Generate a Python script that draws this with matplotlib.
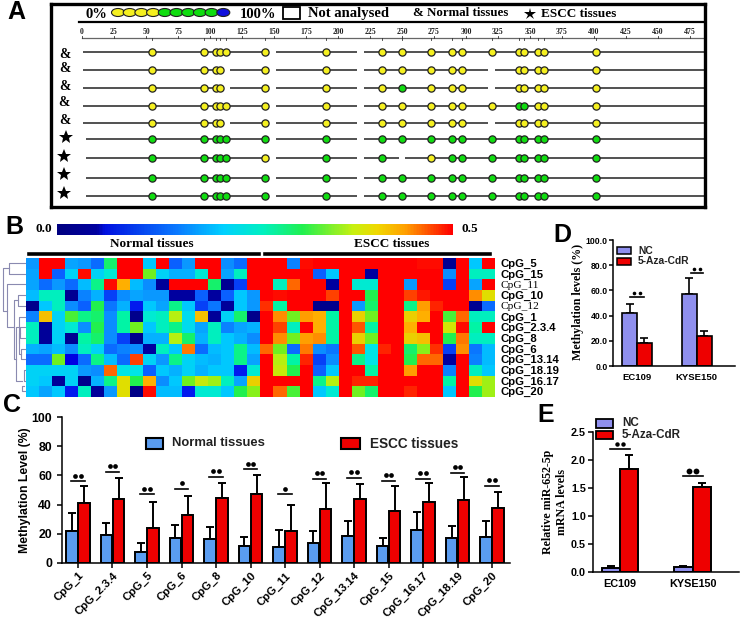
import numpy as np
import matplotlib
matplotlib.use('Agg')
import matplotlib.pyplot as plt
from matplotlib.cm import ScalarMappable
from matplotlib.colors import LinearSegmentedColormap, Normalize
from matplotlib.patches import Ellipse, Rectangle

W, H = 740, 620
SANS = 'Liberation Sans'
SERIF = 'Liberation Serif'

# panel A
sites = [55, 95.5, 104.7, 108, 112.8, 142.7, 191, 234, 250, 272.6, 289, 297, 320,
         341.6, 345, 356, 361, 401.5]
# one letter per site: y = yellow, g = green, n = not analysed
row_status = ['yyyyyyyyyyyyyyyyyy',
              'yyyynyyyyyyynyyyyy',
              'yyyynyyygyyynyyyyy',
              'yyyyyyyyyyyyyggyyy',
              'yyyynyyyyyyynyyyyy',
              'gggggggggggggggggg',
              'gggggyggnygggggggg',
              'gggggggggggggggggg',
              'gggggggggggggggggg']
ruler_ticks = list(range(0, 500, 25))
legend_colors = ['#f5f020'] * 4 + ['#10dd10'] * 5 + ['#1010dd']

# panel B
heat_labels = ['CpG_5', 'CpG_15', 'CpG_11', 'CpG_10', 'CpG_12', 'CpG_1', 'CpG_2.3.4',
               'CpG_8', 'CpG_6', 'CpG_13.14', 'CpG_18.19', 'CpG_16.17', 'CpG_20']
heat_normal = [
    [.15, .5, .5, .16, .15, .11, .27, .5, .5, .19, .5, .10, .15, .5, .5, .14, .11],
    [.16, .5, .10, .2, .49, .2, .23, .5, .5, .3, .2, .17, .17, .23, .5, .16, .24],
    [.16, .11, .15, .11, .18, .26, .49, .39, .18, .14, .04, .5, .5, .5, .27, .03, .09],
    [.18, .24, .24, .03, .13, .17, .09, .14, .16, .15, .15, .05, .05, .1, .05, .1, .19],
    [.02, .19, .24, .14, .10, .28, .12, .17, .08, .19, .16, .26, .19, .09, .12, .04, .19],
    [.13, .38, .2, .29, .26, .27, .14, .25, .02, .23, .24, .33, .21, .38, .04, .2, .27],
    [.24, .04, .2, .23, .14, .28, .14, .25, .3, .19, .24, .26, .21, .16, .24, .13, .16],
    [.24, .04, .2, .03, .25, .27, .14, .09, .02, .17, .17, .33, .27, .17, .24, .19, .17],
    [.17, .16, .18, .14, .24, .2, .11, .13, .14, .05, .24, .19, .42, .11, .18, .19, .26],
    [.11, .11, .3, .07, .11, .26, .18, .11, .45, .2, .15, .26, .2, .18, .17, .19, .26],
    [.2, .2, .2, .2, .15, .14, .43, .22, .22, .1, .19, .17, .2, .17, .19, .19, .08],
    [.2, .19, .04, .2, .02, .17, .26, .36, .28, .39, .14, .19, .3, .34, .32, .24, .16],
    [.19, .16, .19, .08, .24, .04, .15, .36, .01, .49, .18, .18, .08, .23, .23, .19, .28],
]
heat_escc = [
    [.5, .5, .5, .13, .49, .5, .5, .5, .5, .5, .5, .5, .5, .49, .49, .03, .5, .19, .5],
    [.5, .5, .5, .5, .5, .1, .19, .5, .5, .05, .5, .5, .5, .5, .5, .14, .5, .24, .24],
    [.5, .5, .24, .43, .5, .5, .05, .5, .23, .23, .5, .5, .15, .5, .5, .09, .5, .16, .5],
    [.15, .5, .49, .5, .5, .5, .45, .5, .5, .28, .5, .5, .45, .48, .5, .5, .5, .41, .36],
    [.15, .46, .25, .5, .5, .02, .02, .5, .15, .27, .5, .5, .26, .4, .47, .5, .5, .03, .11],
    [.02, .5, .41, .3, .4, .39, .25, .5, .37, .3, .5, .5, .37, .39, .5, .29, .43, .24, .24],
    [.17, .5, .45, .24, .5, .39, .25, .5, .44, .25, .5, .5, .39, .5, .5, .35, .49, .25, .5],
    [.14, .5, .41, .3, .4, .41, .25, .5, .37, .3, .5, .5, .37, .38, .5, .28, .42, .24, .24],
    [.18, .43, .3, .11, .42, .14, .12, .5, .44, .22, .47, .5, .27, .31, .46, .09, .41, .12, .18],
    [.16, .5, .33, .25, .47, .09, .14, .5, .26, .22, .5, .5, .28, .43, .43, .05, .5, .13, .18],
    [.23, .5, .34, .28, .5, .1, .19, .5, .5, .25, .5, .5, .4, .5, .5, .13, .5, .24, .19],
    [.37, .5, .5, .5, .5, .26, .33, .5, .47, .47, .5, .5, .5, .5, .5, .25, .5, .36, .32],
    [.31, .5, .43, .29, .5, .19, .23, .5, .3, .27, .5, .5, .47, .5, .5, .19, .5, .28, .32],
]

# panel C
cpg_names = ['CpG_1', 'CpG_2.3.4', 'CpG_5', 'CpG_6', 'CpG_8', 'CpG_10', 'CpG_11', 'CpG_12',
             'CpG_13.14', 'CpG_15', 'CpG_16.17', 'CpG_18.19', 'CpG_20']
normal_mean = [21.5, 19, 7.5, 17, 16, 11.5, 10.5, 13.8, 18.3, 11.7, 22.5, 17.2, 17.9]
normal_top = [34, 27, 13.5, 26, 24.5, 17.5, 22.5, 21.5, 29, 16.7, 34.6, 25.2, 28.7]
escc_mean = [41, 43.5, 24, 33, 44.5, 47, 22, 37, 44, 35.3, 41.7, 43, 37.6]
escc_top = [52.5, 58, 42, 46, 55, 60.5, 39.7, 55, 54, 53, 54.6, 59, 48.9]
sig_y = [56, 62.6, 47.2, 50.7, 59.2, 64.4, 47, 57.6, 58.3, 56.4, 57.8, 62, 53]
sig_dots = [2, 2, 2, 1, 2, 2, 1, 2, 2, 2, 2, 2, 2]

# panels D and E
cells = ['EC109', 'KYSE150']
d_nc, d_nc_top = [42, 57.5], [49.5, 70]
d_aza, d_aza_top = [18, 23.5], [22.5, 27.5]
d_sig = [54.5, 74]
e_nc, e_nc_top = [0.08, 0.09], [0.11, 0.12]
e_aza, e_aza_top = [1.835, 1.526], [2.096, 1.597]
e_sig = [2.19, 1.71]

BLUE = '#5a9cf0'
RED = '#ee0000'
NC = '#8f8fee'


def panel_ax(left, top, right, bottom):
    return fig.add_axes([left / W, 1 - bottom / H, (right - left) / W, (bottom - top) / H])


def tx(x, y, s, **kw):
    kw.setdefault('va', 'center')
    kw.setdefault('ha', 'left')
    return fig.text(x / W, 1 - y / H, s, **kw)


def swatch(left, top, right, bottom, color, lw=1.5):
    fig.add_artist(Rectangle((left / W, 1 - bottom / H), (right - left) / W, (bottom - top) / H,
                             transform=fig.transFigure, fc=color, ec='k', lw=lw))


def bar_axes(ax, ylim):
    ax.set_ylim(*ylim)
    for s in ['top', 'right']:
        ax.spines[s].set_visible(False)
    for s in ['left', 'bottom']:
        ax.spines[s].set_linewidth(1.1)
    ax.tick_params(width=1.1, length=3.5)
    ax.patch.set_alpha(0)


def bars(ax, xs, vals, tops, width, color, lw=1.4):
    ax.bar(xs, vals, width, color=color, edgecolor='k', linewidth=lw, zorder=2)
    ax.errorbar(xs, vals, yerr=[np.zeros(len(vals)), np.array(tops) - np.array(vals)], fmt='none',
                ecolor='k', elinewidth=lw, capsize=2.6, capthick=lw, zorder=1)


def sig(ax, x, y, half, gap, n, dx, ms):
    ax.plot([x - half, x + half], [y, y], color='k', lw=1.2, clip_on=False)
    if n == 2:
        ax.plot([x - dx, x + dx], [y + gap, y + gap], 'o', color='k', ms=ms, mew=0, clip_on=False)
    else:
        ax.plot([x], [y + gap], 'o', color='k', ms=ms, mew=0, clip_on=False)


fig = plt.figure(figsize=(W / 100, H / 100), dpi=100)

# A -----------------------------------------------------------------
ax = panel_ax(51, 4, 705, 207)
ax.set_xlim((51 - 82) / 1.28, (705 - 82) / 1.28)
ax.set_ylim(207, 4)
ax.set_xticks([])
ax.set_yticks([])
for s in ax.spines.values():
    s.set_linewidth(2.4)
row_y = [52, 70, 88, 106, 123, 138.5, 157.5, 178, 196]
fixed_gaps = [(145.8, 151.6), (214.8, 220.3)]
for r, (y, status) in enumerate(zip(row_y, row_status)):
    gaps = list(fixed_gaps)
    for site, st in zip(sites, status):
        if st == 'n':
            gaps.append((site - 2.6, site + 2.6))
    gaps.sort()
    start = 1 if r < 5 else 3
    for g0, g1 in gaps + [(490, 490)]:
        ax.plot([start, g0], [y, y], color='#333333', lw=1.2, zorder=1, solid_capstyle='butt')
        start = g1
    for site, st in zip(sites, status):
        if st == 'n':
            continue
        ax.plot(site, y, 'o', ms=5.2, mfc='#f5f020' if st == 'y' else '#10dd10', mec='#222222',
                mew=0.9, zorder=3)
ax.plot([-2, 490], [22, 22], color='k', lw=1.6)
ax.plot([0, 490], [38, 38], color='#666666', lw=0.9)
for t in ruler_ticks:
    ax.plot([t, t], [36, 38], color='#333333', lw=0.6)
    ax.text(t, 31.5, str(t), ha='center', va='center', fontsize=5.6, family=SERIF, weight='bold',
            color='#222222')
for site in sites:
    ax.plot([site, site], [38, 40], color='#333333', lw=0.6)
for i, col in enumerate(legend_colors):
    ax.add_patch(Ellipse(((118 + 11.7 * i - 82) / 1.28, 12.5), 13 / 1.28, 8, fc=col, ec='#222222',
                         lw=0.8, zorder=2 + i))
swatch(283, 7, 300, 19, 'white', lw=1.3)
head = dict(family=SERIF, weight='bold', fontsize=10.5)
tx(86, 14, '0%', **head)
tx(240, 14, '100%', **head)
tx(308, 14, 'Not analysed', **head)
tx(413, 13, '& Normal tissues', family=SERIF, weight='bold', fontsize=9.3)
tx(541, 14, 'ESCC tissues', family=SERIF, weight='bold', fontsize=9.5)
fig.add_artist(plt.Line2D([530 / W], [1 - 14 / H], marker='*', color='k', ms=9, mew=0,
                          transform=fig.transFigure))
for x, y in zip([65, 65, 65, 64, 65], [54, 68, 87, 102, 120]):
    tx(x, y, '&', family=SERIF, weight='bold', fontsize=9.8, ha='center')
for x, y in zip([66, 64, 64, 64], [137, 156, 174, 193]):
    fig.add_artist(plt.Line2D([x / W], [1 - y / H], marker='*', color='k', ms=10.5, mew=0,
                              transform=fig.transFigure))
tx(7, 12, 'A', family=SANS, weight='bold', fontsize=18)

# B -----------------------------------------------------------------
cmap = LinearSegmentedColormap.from_list('meth', [
    (0, '#000080'), (0.1, '#0000a0'), (0.14, '#0000e8'), (0.2, '#0a60ff'), (0.3, '#0a9aff'),
    (0.38, '#00c8ff'), (0.44, '#00e6e6'), (0.5, '#00f5a8'), (0.56, '#20f050'), (0.6, '#70f020'),
    (0.66, '#b8f010'), (0.72, '#e0e000'), (0.78, '#ffb000'), (0.86, '#ff6a00'), (0.92, '#ff3000'),
    (1, '#ff0000')])
# the bar in the picture is stretched differently from the cells
bar_cmap = LinearSegmentedColormap.from_list('methbar', [
    (0, '#000080'), (0.1, '#0000a0'), (0.12, '#0010e0'), (0.3, '#0a78ff'), (0.42, '#00d0ff'),
    (0.52, '#00f0c0'), (0.62, '#20f050'), (0.75, '#c8f010'), (0.81, '#f0d800'), (0.88, '#ffa000'),
    (0.94, '#ff5000'), (1, '#ff0000')])
heat = np.hstack([np.array(heat_normal), np.array(heat_escc)])
ax = panel_ax(26, 257.7, 494.5, 396.7)
ax.imshow(heat, cmap=cmap, vmin=0, vmax=0.5, aspect='auto', interpolation='nearest')
ax.set_xticks([])
ax.yaxis.tick_right()
ax.set_yticks(range(len(heat_labels)))
ax.set_yticklabels(heat_labels, family=SANS, weight='bold', fontsize=8.2)
for lab in ax.get_yticklabels():
    if lab.get_text() in ('CpG_11', 'CpG_12'):
        lab.set_family(SERIF)
        lab.set_weight('normal')
ax.tick_params(axis='y', length=0, pad=4)
for s in ax.spines.values():
    s.set_visible(False)

cax = panel_ax(57, 224, 453, 235)
fig.colorbar(ScalarMappable(Normalize(0, 0.5), bar_cmap), cax=cax, orientation='horizontal')
cax.set_xticks([])
cax.xaxis.set_tick_params(which='both', length=0)
cax.minorticks_off()
cax.spines['outline'].set_visible(False)
tx(35, 229.5, '0.0', family=SERIF, weight='bold', fontsize=9.5)
tx(461, 229.5, '0.5', family=SERIF, weight='bold', fontsize=9.5)
tx(110, 243.5, 'Normal tissues', family=SERIF, weight='bold', fontsize=9.5)
tx(354, 243.5, 'ESCC tissues', family=SERIF, weight='bold', fontsize=9.5)
fig.add_artist(plt.Line2D([29 / W, 259 / W], [1 - 254 / H] * 2, color='k', lw=2.6,
                          transform=fig.transFigure))
fig.add_artist(plt.Line2D([265 / W, 490 / W], [1 - 254 / H] * 2, color='k', lw=2.6,
                          transform=fig.transFigure))
tx(5, 227, 'B', family=SANS, weight='bold', fontsize=18)

# dendrogram: x in px, y in heatmap rows
dax = panel_ax(0, 257.7, 26, 396.7)
dax.set_xlim(0, 26)
dax.set_ylim(12.5, -0.5)
dax.axis('off')
brackets = [(9, 0, 1, 26, 26), (18, 3, 4, 26, 26), (24, 10, 11, 26, 26), (22, 11.5, 12, 24, 26),
            (21, 8, 9, 26, 26), (20, 6, 7, 26, 26), (19, 6.5, 8.5, 20, 21),
            (19, 5, 7.5, 26, 19), (16, 6, 11, 19, 22), (14, 3.5, 9, 18, 16), (7, 2, 6, 26, 14),
            (2.5, 0.5, 4.5, 9, 7)]
for x, r0, r1, x0, x1 in brackets:
    dax.plot([x0, x, x, x1], [r0, r0, r1, r1], color='#8a8ab0', lw=0.8)

# C -----------------------------------------------------------------
ax = panel_ax(61.7, 417.3, 510, 562.7)
x = np.arange(len(cpg_names))
bars(ax, x - 0.175, normal_mean, normal_top, 0.34, BLUE)
bars(ax, x + 0.175, escc_mean, escc_top, 0.34, RED)
for xi, y, n in zip(x, sig_y, sig_dots):
    sig(ax, xi, y, 0.2, 3.8, n, 0.085, 3.4)
ax.set_xlim(-0.472, 12.52)
bar_axes(ax, (0, 100))
ax.set_yticks([0, 20, 40, 60, 80, 100])
ax.set_xticks(x)
ax.set_xticklabels(cpg_names, rotation=45, ha='right', rotation_mode='anchor', family=SANS,
                   weight='bold', fontsize=8.2)
ax.tick_params(axis='x', pad=2)
for lab in ax.get_yticklabels():
    lab.set(family=SANS, weight='bold', fontsize=8.8)
ax.set_ylabel('Methylation Level (%)', family=SANS, weight='bold', fontsize=8.8, labelpad=0)
swatch(146, 438, 163, 449, BLUE)
swatch(341, 438, 360, 449, RED)
tx(172, 443.5, 'Normal tissues', family=SANS, weight='bold', fontsize=9.4, color='#222222')
tx(370, 443.5, 'ESCC tissues', family=SANS, weight='bold', fontsize=9.8, color='#222222')
tx(3, 405, 'C', family=SANS, weight='bold', fontsize=18)

# D -----------------------------------------------------------------
ax = panel_ax(613.3, 240, 735, 366)
x = np.arange(2)
bars(ax, x - 0.125, d_nc, d_nc_top, 0.25, NC, lw=1.2)
bars(ax, x + 0.125, d_aza, d_aza_top, 0.25, RED, lw=1.2)
for xi, y, half in zip(x, d_sig, [0.125, 0.1]):
    sig(ax, xi, y, half, 3.2, 2, 0.05, 2.6)
ax.set_xlim(-0.397, 1.64)
bar_axes(ax, (0, 100))
ax.set_yticks([0, 20, 40, 60, 80, 100])
ax.set_yticklabels(['0.0', '20.0', '40.0', '60.0', '80.0', '100.0'], family=SANS, weight='bold',
                   fontsize=6.2)
ax.set_xticks(x)
ax.set_xticklabels(cells, family=SANS, weight='bold', fontsize=6.8)
ax.tick_params(axis='x', length=0, pad=5)
ax.tick_params(axis='y', length=3, pad=1)
tx(578, 302, 'Methylation levels (%)', family=SERIF, weight='bold', fontsize=8.6, rotation=90,
   ha='center')
swatch(617, 247, 631, 254, NC, lw=1.1)
swatch(617, 258, 631, 265, RED, lw=1.1)
tx(638, 250.5, 'NC', family=SANS, weight='bold', fontsize=7.4, color='#222222')
tx(638, 261.5, '5-Aza-CdR', family=SANS, weight='bold', fontsize=7.4, color='#222222')
tx(553, 235, 'D', family=SANS, weight='bold', fontsize=18)

# E -----------------------------------------------------------------
ax = panel_ax(593, 432, 739, 572.3)
bars(ax, x - 0.127, e_nc, e_nc_top, 0.254, NC, lw=1.4)
bars(ax, x + 0.127, e_aza, e_aza_top, 0.254, RED, lw=1.4)
sig(ax, 0, e_sig[0], 0.137, 0.09, 2, 0.04, 3.2)
sig(ax, 1, e_sig[1], 0.14, 0.1, 2, 0.05, 4.2)
ax.set_xlim(-0.371, 1.637)
bar_axes(ax, (0, 2.5))
ax.set_yticks([0, 0.5, 1, 1.5, 2, 2.5])
ax.set_yticklabels(['0.0', '0.5', '1.0', '1.5', '2.0', '2.5'], family=SANS, weight='bold',
                   fontsize=7.8)
ax.set_xticks(x)
ax.set_xticklabels(cells, family=SANS, weight='bold', fontsize=7.8)
ax.tick_params(axis='x', length=0, pad=5)
ax.tick_params(axis='y', length=3.5, pad=1.5)
tx(548, 502, 'Relative miR-652-5p', family=SERIF, weight='bold', fontsize=8.6, rotation=90,
   ha='center')
tx(562, 502, 'mRNA levels', family=SERIF, weight='bold', fontsize=8.6, rotation=90, ha='center')
swatch(596, 419, 613, 428, NC, lw=1.3)
swatch(596, 431, 613, 439, RED, lw=1.3)
tx(622, 423, 'NC', family=SANS, weight='bold', fontsize=8.4, color='#222222')
tx(622, 435, '5-Aza-CdR', family=SANS, weight='bold', fontsize=8.4, color='#222222')
tx(537, 415, 'E', family=SANS, weight='bold', fontsize=18)

fig.savefig('out.png', dpi=100)
